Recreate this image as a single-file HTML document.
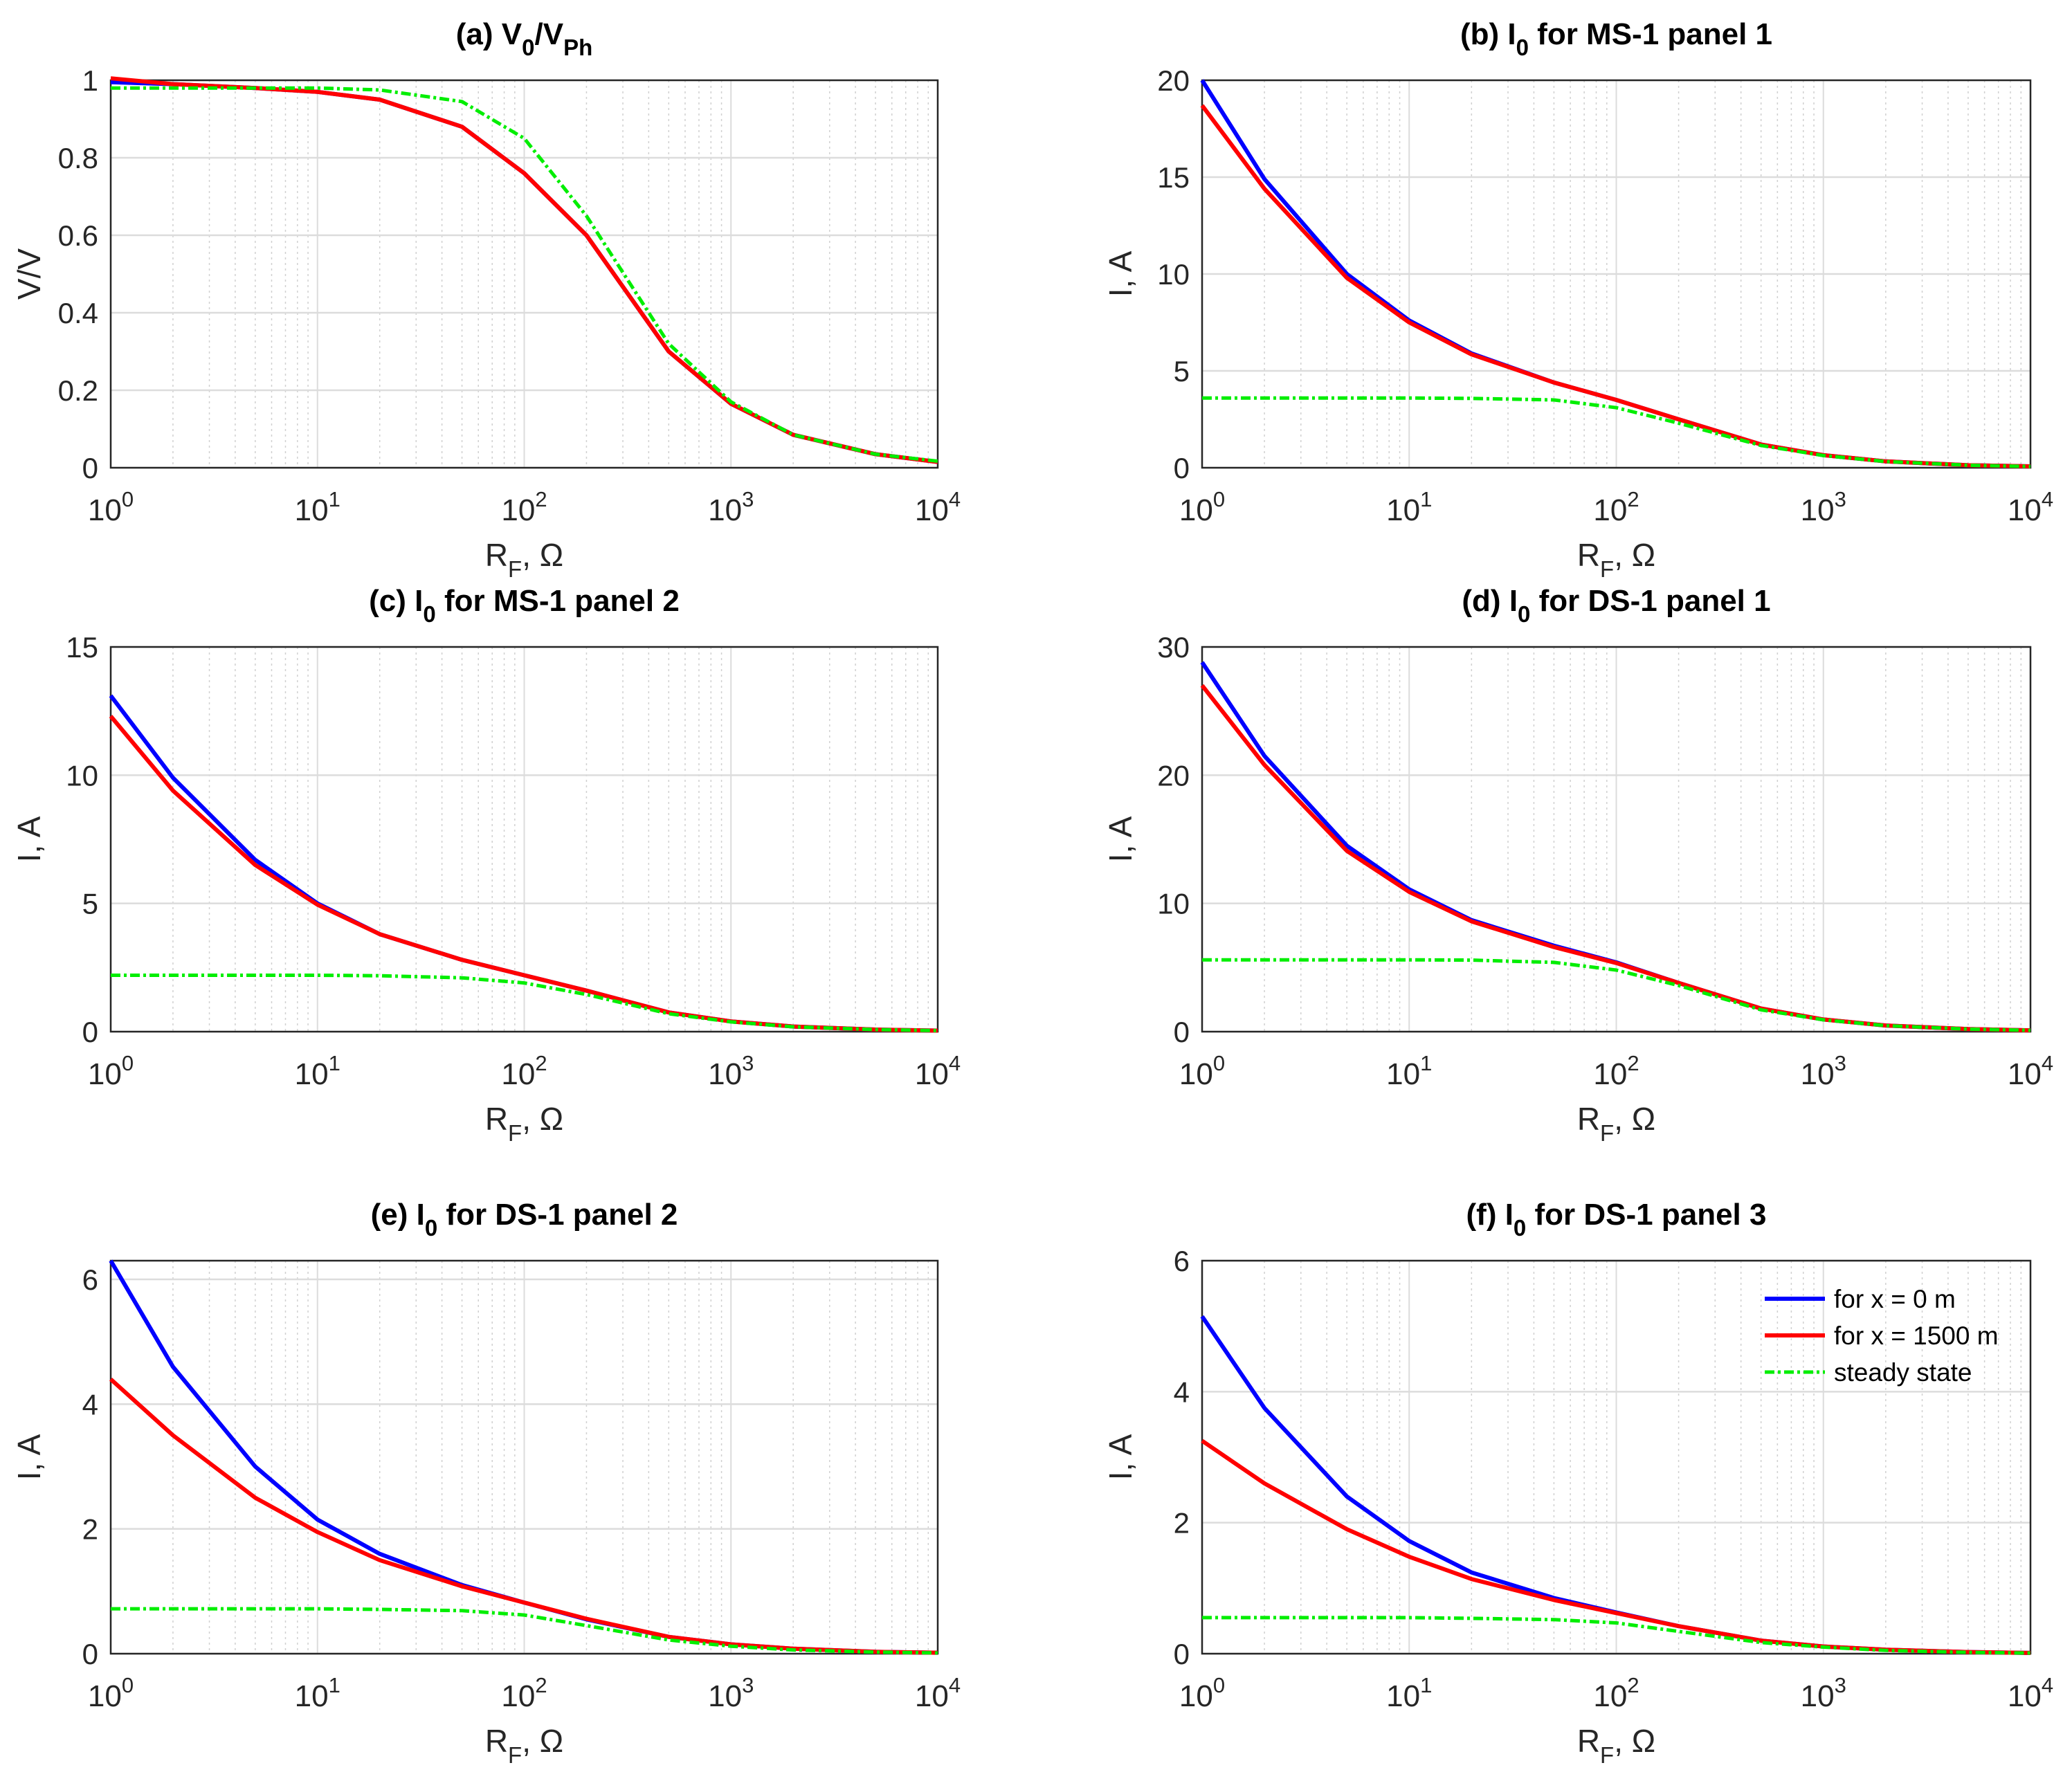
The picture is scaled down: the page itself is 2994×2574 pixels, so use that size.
<!DOCTYPE html>
<html><head><meta charset="utf-8">
<style>html,body{margin:0;padding:0;background:#fff;}svg{display:block;font-family:"Liberation Sans",sans-serif;}</style>
</head><body>
<svg id="fig" width="2994" height="2574" xmlns="http://www.w3.org/2000/svg"></svg>
<script>
const xVals=[1,2,5,10,20,50,100,200,500,1000,2000,5000,10000];
const aBlue=[0.995,0.99,0.98,0.97,0.95,0.88,0.76,0.6,0.3,0.165,0.085,0.035,0.015];
const aRed=[1.005,0.99,0.98,0.97,0.95,0.88,0.76,0.6,0.3,0.165,0.085,0.035,0.015];
const aGreen=[0.98,0.98,0.98,0.98,0.975,0.945,0.85,0.65,0.32,0.17,0.085,0.035,0.017];
const bBlue=[20,14.9,10,7.6,5.9,4.4,3.5,2.5,1.2,0.65,0.33,0.13,0.07];
const bRed=[18.7,14.4,9.8,7.5,5.85,4.4,3.5,2.5,1.2,0.65,0.33,0.13,0.07];
const bGreen=[3.6,3.6,3.6,3.6,3.58,3.5,3.1,2.3,1.15,0.63,0.32,0.13,0.065];
const cBlue=[13.1,9.9,6.7,5.0,3.8,2.8,2.2,1.6,0.75,0.4,0.2,0.08,0.04];
const cRed=[12.3,9.4,6.5,4.95,3.8,2.8,2.2,1.6,0.75,0.4,0.2,0.08,0.04];
const cGreen=[2.2,2.2,2.2,2.2,2.18,2.1,1.9,1.45,0.7,0.38,0.19,0.08,0.04];
const dBlue=[28.8,21.5,14.5,11.1,8.7,6.7,5.4,3.8,1.8,0.95,0.48,0.2,0.1];
const dRed=[27,20.8,14.1,10.9,8.6,6.6,5.35,3.8,1.8,0.95,0.48,0.2,0.1];
const dGreen=[5.6,5.6,5.6,5.6,5.58,5.4,4.8,3.6,1.7,0.92,0.47,0.2,0.1];
const eBlue=[6.3,4.6,3.0,2.15,1.6,1.1,0.82,0.55,0.27,0.15,0.08,0.03,0.015];
const eRed=[4.4,3.5,2.5,1.95,1.5,1.08,0.82,0.56,0.27,0.15,0.08,0.03,0.015];
const eGreen=[0.72,0.72,0.72,0.72,0.71,0.69,0.62,0.45,0.22,0.12,0.06,0.025,0.012];
const fBlue=[5.15,3.75,2.4,1.72,1.24,0.85,0.63,0.42,0.2,0.11,0.06,0.025,0.012];
const fRed=[3.25,2.6,1.9,1.48,1.14,0.82,0.62,0.42,0.2,0.11,0.06,0.025,0.012];
const fGreen=[0.55,0.55,0.55,0.55,0.54,0.52,0.47,0.34,0.17,0.1,0.05,0.02,0.01];
const aTicks=[0,0.2,0.4,0.6,0.8,1];
const bTicks=[0,5,10,15,20];
const cTicks=[0,5,10,15];
const dTicks=[0,10,20,30];
const eTicks=[0,2,4,6];
const fTicks=[0,2,4,6];
const xDecades=[0,1,2,3,4];

const NS="http://www.w3.org/2000/svg";
const svg=document.getElementById('fig');
function mk(tag,attrs,parent){const e=document.createElementNS(NS,tag);for(const k in attrs)e.setAttribute(k,attrs[k]);(parent||svg).appendChild(e);return e;}

const panels=[
 {id:'a',x0:160,x1:1355,y0:116,y1:676,ymax:1,ticks:aTicks,title:['(a) V','0','/V','Ph'],yl:'V/V',s:[aBlue,aRed,aGreen]},
 {id:'b',x0:1737,x1:2934,y0:116,y1:676,ymax:20,ticks:bTicks,title:['(b) I','0',' for MS-1 panel 1'],yl:'I, A',s:[bBlue,bRed,bGreen]},
 {id:'c',x0:160,x1:1355,y0:935,y1:1491,ymax:15,ticks:cTicks,title:['(c) I','0',' for MS-1 panel 2'],yl:'I, A',s:[cBlue,cRed,cGreen]},
 {id:'d',x0:1737,x1:2934,y0:935,y1:1491,ymax:30,ticks:dTicks,title:['(d) I','0',' for DS-1 panel 1'],yl:'I, A',s:[dBlue,dRed,dGreen]},
 {id:'e',x0:160,x1:1355,y0:1822,y1:2390,ymax:6.3,ticks:eTicks,title:['(e) I','0',' for DS-1 panel 2'],yl:'I, A',s:[eBlue,eRed,eGreen]},
 {id:'f',x0:1737,x1:2934,y0:1822,y1:2390,ymax:6,ticks:fTicks,title:['(f) I','0',' for DS-1 panel 3'],yl:'I, A',s:[fBlue,fRed,fGreen],legend:true}
];
const colors=['#0000ff','#ff0000','#00ee00'];
panels.forEach(p=>{
 const g=mk('g',{});
 
 
 const X=v=>p.x0+(Math.log10(v)/4)*(p.x1-p.x0);
 const Y=v=>p.y1-(v/p.ymax)*(p.y1-p.y0);
 for(let d=0;d<4;d++)for(let m=2;m<10;m++){const x=X(m*Math.pow(10,d));
  const l=mk('line',{x1:x,x2:x,y1:p.y0,y2:p.y1,stroke:'#d0d0d0','stroke-width':1.5,'stroke-dasharray':'3,5'},g);
  }
 xDecades.forEach(d=>{const x=X(Math.pow(10,d));
  const l=mk('line',{x1:x,x2:x,y1:p.y0,y2:p.y1,stroke:'#dcdcdc','stroke-width':2},g);
  
  const t=mk('text',{x:x,y:p.y1+76,'font-size':44,'text-anchor':'middle',fill:'#262626'},g);
  
  t.textContent='10';const sp=mk('tspan',{dy:-20,'font-size':31},t);sp.textContent=String(d);
 });
 p.ticks.forEach(v=>{const y=Y(v);
  const l=mk('line',{x1:p.x0,x2:p.x1,y1:y,y2:y,stroke:'#dcdcdc','stroke-width':2.5},g);
  
  const t=mk('text',{x:p.x0-18,y:y+15,'font-size':42,'text-anchor':'end',fill:'#262626'},g);
  
  t.textContent=String(v);
 });
 const box=mk('rect',{x:p.x0,y:p.y0,width:p.x1-p.x0,height:p.y1-p.y0,fill:'none',stroke:'#262626','stroke-width':2.5},g);
 
 const names=['series-x0','series-x1500','series-steady'];
 [0,1,2].forEach(i=>{
  const pts=xVals.map((x,k)=>X(x).toFixed(1)+','+Y(p.s[i][k]).toFixed(1)).join(' ');
  const at={points:pts,fill:'none',stroke:colors[i],'stroke-width':i==2?5:6,'stroke-linejoin':'round'};
  if(i==2)at['stroke-dasharray']='14,5,4,5';
  const pl=mk('polyline',at,g);
  
 });
 const cx=(p.x0+p.x1)/2;
 const t=mk('text',{x:cx,y:p.y0-52,'font-size':44,'font-weight':'bold','text-anchor':'middle',fill:'#000'},g);
 
 p.title.forEach((s,i)=>{const sp=mk('tspan',i%2==1?{dy:16,'font-size':33}:(i>0?{dy:-16}:{}),t);sp.textContent=s;});
 const xl=mk('text',{x:cx,y:p.y1+142,'font-size':46,'text-anchor':'middle',fill:'#262626'},g);
 
 xl.textContent='R';const s1=mk('tspan',{dy:16,'font-size':33},xl);s1.textContent='F';const s2=mk('tspan',{dy:-16},xl);s2.textContent=', Ω';
 const yl=mk('text',{x:0,y:0,'font-size':46,'text-anchor':'middle',fill:'#262626',transform:`translate(${p.x0-102},${(p.y0+p.y1)/2}) rotate(-90)`},g);
 
 yl.textContent=p.yl;
 if(p.legend){
  const lg=mk('g',{},g);
  
  const labs=['for x = 0 m','for x = 1500 m','steady state'];
  labs.forEach((s,i)=>{const y=1877+i*53;
   const la={x1:2550,x2:2637,y1:y,y2:y,stroke:colors[i],'stroke-width':i==2?5:6};
   if(i==2)la['stroke-dasharray']='14,5,4,5';
   const l=mk('line',la,lg);
   const tx=mk('text',{x:2650,y:y+13,'font-size':37,fill:'#000'},lg);
   
   tx.textContent=s;});
 }
});
</script>
</body></html>
